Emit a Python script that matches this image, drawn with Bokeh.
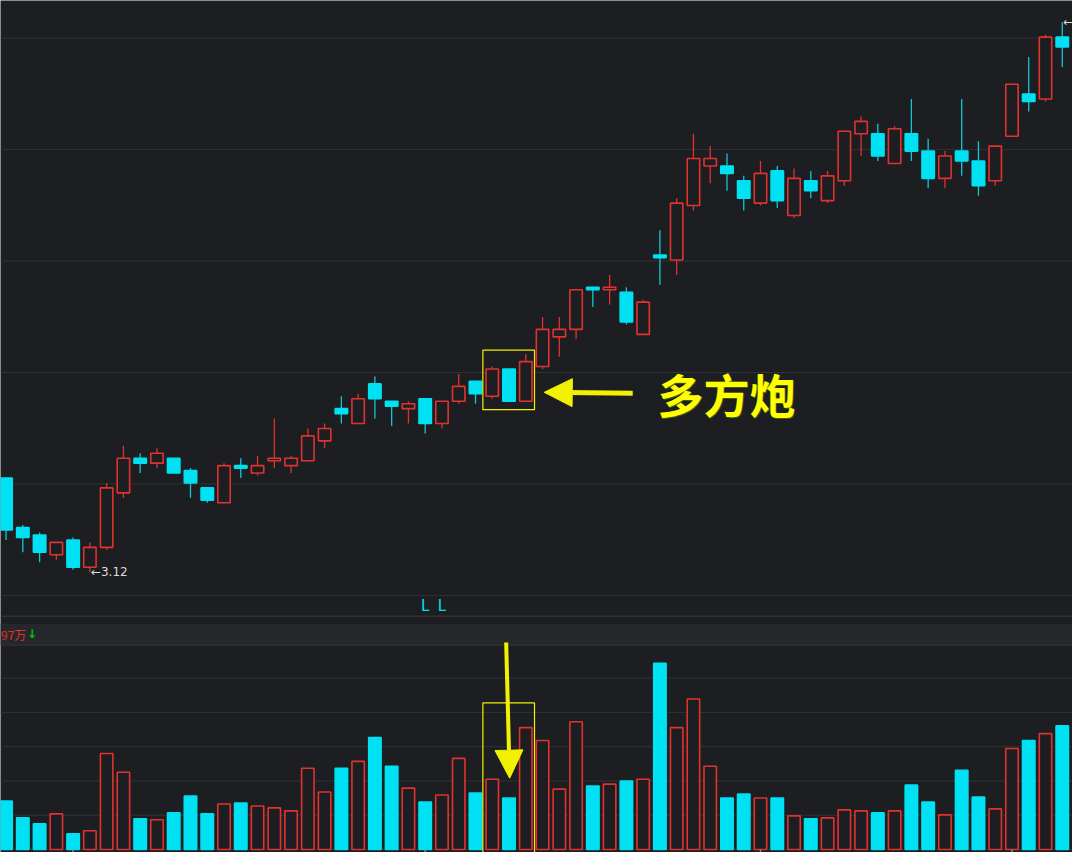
import numpy as np
from bokeh.plotting import figure
from bokeh.models import (ColumnDataSource, Range1d, Span, BoxAnnotation, Arrow,
                          NormalHead, Label)
from bokeh.core.properties import value
from bokeh.embed import file_html
from bokeh.resources import INLINE

# ---------------- data ----------------
opens = [3.50, 3.30, 3.27, 3.19, 3.25, 3.14, 3.22, 3.44, 3.58, 3.56,
         3.58, 3.53, 3.46, 3.40, 3.55, 3.52, 3.57, 3.55, 3.57, 3.65,
         3.78, 3.72, 3.88, 3.81, 3.78, 3.82, 3.72, 3.81, 3.89, 3.83,
         3.94, 3.81, 3.95, 4.07, 4.10, 4.27, 4.26, 4.25, 4.08, 4.40,
         4.38, 4.60, 4.76, 4.76, 4.70, 4.61, 4.74, 4.56, 4.70, 4.62,
         4.70, 4.89, 4.89, 4.77, 4.89, 4.82, 4.71, 4.82, 4.78, 4.70,
         4.88, 5.05, 5.03, 5.28]
highs = [3.50, 3.31, 3.28, 3.24, 3.26, 3.24, 3.48, 3.63, 3.60, 3.62,
         3.58, 3.54, 3.46, 3.56, 3.58, 3.59, 3.74, 3.59, 3.70, 3.72,
         3.83, 3.84, 3.91, 3.81, 3.81, 3.82, 3.81, 3.92, 3.89, 3.95,
         3.94, 4.00, 4.15, 4.15, 4.26, 4.27, 4.32, 4.27, 4.22, 4.50,
         4.63, 4.89, 4.84, 4.81, 4.72, 4.78, 4.76, 4.75, 4.74, 4.74,
         4.90, 4.96, 4.93, 4.92, 5.03, 4.87, 4.82, 5.03, 4.86, 4.84,
         5.09, 5.20, 5.29, 5.34]
lows = [3.25, 3.20, 3.16, 3.17, 3.13, 3.12, 3.21, 3.42, 3.52, 3.54,
        3.52, 3.42, 3.40, 3.40, 3.50, 3.51, 3.54, 3.52, 3.57, 3.62,
        3.72, 3.72, 3.74, 3.71, 3.72, 3.68, 3.70, 3.80, 3.80, 3.82,
        3.81, 3.81, 3.94, 3.99, 4.06, 4.19, 4.20, 4.12, 4.08, 4.28,
        4.32, 4.58, 4.69, 4.66, 4.58, 4.60, 4.59, 4.55, 4.63, 4.61,
        4.68, 4.80, 4.78, 4.77, 4.78, 4.67, 4.67, 4.72, 4.64, 4.68,
        4.88, 4.98, 5.02, 5.16]
closes = [3.29, 3.26, 3.20, 3.24, 3.14, 3.22, 3.46, 3.58, 3.56, 3.60,
          3.52, 3.48, 3.41, 3.55, 3.54, 3.55, 3.58, 3.58, 3.67, 3.70,
          3.76, 3.82, 3.82, 3.79, 3.80, 3.72, 3.81, 3.87, 3.84, 3.94,
          3.81, 3.97, 4.10, 4.10, 4.26, 4.26, 4.27, 4.13, 4.21, 4.39,
          4.61, 4.79, 4.79, 4.73, 4.63, 4.73, 4.62, 4.71, 4.66, 4.72,
          4.90, 4.94, 4.80, 4.91, 4.82, 4.71, 4.80, 4.78, 4.68, 4.84,
          5.09, 5.02, 5.28, 5.24]
# volume, in 万手 (relative units)
volumes = [49, 32, 26, 36, 16, 19, 97, 78, 31, 30,
           37, 54, 36, 46, 47, 44, 42, 39, 82, 58,
           82, 89, 113, 84, 62, 48, 55, 92, 57, 71,
           52, 123, 110, 61, 129, 64, 66, 69, 71, 188,
           123, 152, 84, 52, 56, 52, 52, 34, 31, 32,
           40, 39, 37, 39, 65, 48, 35, 80, 53, 41,
           102, 110, 117, 125]
month_ticks = [4, 25, 45, 60]
signal_days = [25, 26]
pattern_days = [29, 30, 31]
pattern_name = "多方炮"
vol_label = "97万"

# ---------------- styles ----------------
BG = "#1d1e22"
GRID = "#313236"
BAND = "#26272b"
RED = "#e0322f"
CYAN = "#00e1f3"
YEL = "#f2f200"

n = len(opens)
idx = np.arange(n)
up = [c >= o for o, c in zip(opens, closes)]
src = ColumnDataSource(dict(
    x=idx, o=opens, h=highs, l=lows, c=closes, v=volumes,
    top=[max(o, c) for o, c in zip(opens, closes)],
    bot=[min(o, c) for o, c in zip(opens, closes)],
    fill=[BG if u else CYAN for u in up],
    col=[RED if u else CYAN for u in up],
    wick=[RED if u else "#13c6d6" for u in up],
))

p = figure(width=1072, height=852, output_backend="svg", toolbar_location=None,
           x_range=Range1d(-0.332, 63.61), y_range=Range1d(1.988, 5.428),
           min_border=0, background_fill_color=BG, border_fill_color=BG,
           outline_line_color=None)
p.extra_y_ranges = {"vol": Range1d(-3, 857)}
p.xaxis.visible = False
p.yaxis.visible = False
p.grid.visible = False

# grid lines of price panel
for k in range(6):
    p.add_layout(Span(location=3.026 + 0.45 * k, dimension="width",
                      line_color=GRID, line_width=1, level="underlay"))
# panel separators / info band
p.add_layout(Span(location=235.5, dimension="width", y_range_name="vol",
                  line_color=GRID, line_width=1.5, level="underlay"))
p.add_layout(BoxAnnotation(bottom=207, top=228, y_range_name="vol",
                           fill_color=BAND, fill_alpha=1, line_color=None,
                           level="underlay"))
p.add_layout(Span(location=206.5, dimension="width", y_range_name="vol",
                  line_color=GRID, line_width=1.5, level="underlay"))
for k in range(0, 6):
    p.add_layout(Span(location=34.6 * k, dimension="width", y_range_name="vol",
                      line_color=GRID, line_width=1, level="underlay"))

# candles
p.segment(x0="x", y0="h", x1="x", y1="l", source=src, line_color="wick", line_width=1.3)
p.vbar(x="x", width=0.74, top="top", bottom="bot", source=src,
       fill_color="fill", line_color="col", line_width=1.6)

# volume bars
p.vbar(x="x", width=0.74, top="v", bottom=0, source=src, y_range_name="vol",
       fill_color="fill", line_color="col", line_width=1.6)
p.segment(x0=month_ticks, y0=[0] * len(month_ticks), x1=month_ticks,
          y1=[-3] * len(month_ticks), y_range_name="vol",
          line_color="#8a8a8a", line_width=1.5)

# extreme labels
i_lo = int(np.argmin(lows))
i_hi = int(np.argmax(highs))
p.text(x=[i_lo], y=[lows[i_lo]], text=[f"←{lows[i_lo]:.2f}"], x_offset=1,
       text_font=value("DejaVu Sans"), text_font_size="12px", text_color="#dcdcdc",
       text_baseline="middle", text_align="left")
# the high-price label runs off the right edge; only its arrow is visible
p.text(x=[i_hi], y=[highs[i_hi]], text=["←"], x_offset=1,
       text_font=value("DejaVu Sans"), text_font_size="12px", text_color="#dcdcdc",
       text_baseline="middle", text_align="left")

# signal marks
p.text(x=signal_days, y=[2.984] * len(signal_days), text=["L"] * len(signal_days),
       text_font=value("DejaVu Sans"), text_font_size="15px", text_color=CYAN,
       text_baseline="middle", text_align="center")

# band text
p.text(x=[-0.30], y=[217.5], text=[vol_label], y_range_name="vol",
       text_font=value("Noto Sans CJK SC"), text_font_size="12px", text_color=RED,
       text_baseline="middle", text_align="left")
p.text(x=[1.55], y=[217.5], text=["↓"], y_range_name="vol",
       text_font=value("DejaVu Sans"), text_font_size="12px", text_color="#00c400",
       text_font_style="bold", text_baseline="middle", text_align="center")

# pattern highlight boxes
left = pattern_days[0] - 0.56
right = pattern_days[-1] + 0.52
p.add_layout(BoxAnnotation(left=left, right=right, bottom=3.776, top=4.016,
                           fill_alpha=0, line_color=YEL, line_alpha=1, line_width=1.2))
p.add_layout(BoxAnnotation(left=left, right=right, bottom=-10, top=148,
                           y_range_name="vol", fill_alpha=0,
                           line_color=YEL, line_alpha=1, line_width=1.2))

# arrows
p.add_layout(Arrow(x_start=37.38, y_start=3.842, x_end=32.1, y_end=3.846,
                   line_color=YEL, line_width=5,
                   end=NormalHead(size=28, fill_color=YEL, line_color=YEL, line_width=1)))
p.add_layout(Arrow(x_start=29.83, y_start=209, x_end=30.04, y_end=72,
                   y_range_name="vol", line_color=YEL, line_width=4,
                   end=NormalHead(size=28, fill_color=YEL, line_color=YEL, line_width=1)))

# pattern name
p.add_layout(Label(x=38.86, y=3.844, text=pattern_name, x_offset=1, y_offset=-1,
                   text_font="Noto Sans CJK SC", text_font_size="46px",
                   text_font_style="bold", text_color="#3d5a12",
                   text_baseline="middle", text_align="left"))
p.add_layout(Label(x=38.86, y=3.844, text=pattern_name,
                   text_font="Noto Sans CJK SC", text_font_size="46px",
                   text_font_style="bold", text_color="#ffff00",
                   text_baseline="middle", text_align="left"))

open("out.html", "w").write(file_html(p, INLINE))
